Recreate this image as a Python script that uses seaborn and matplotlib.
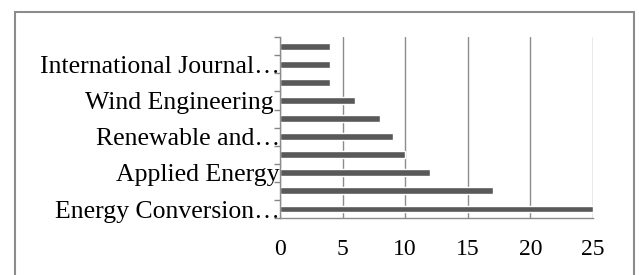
import numpy as np
import pandas as pd
import seaborn as sns
import matplotlib.pyplot as plt
from matplotlib.patches import Rectangle

# journals from bottom to top; only every other one has a visible label
journals = ["Energy Conversion\u2026", "", "Applied Energy", "", "Renewable and\u2026",
            "", "Wind Engineering ", "", "International Journal\u2026", ""]
papers = [25, 17, 12, 10, 9, 8, 6, 4, 4, 4]
x_ticks = [0, 5, 10, 15, 20, 25]

df = pd.DataFrame({"pos": np.arange(len(papers)), "papers": papers})

sns.set_theme(style="white")
plt.rcParams["font.family"] = ["Liberation Serif", "DejaVu Serif"]

fig = plt.figure(figsize=(6.39, 2.75), dpi=100)
ax = fig.add_axes([0.438, 0.207, 0.490, 0.658])

sns.barplot(data=df, x="papers", y="pos", orient="h", native_scale=True,
            color="#595959", saturation=1, width=0.38, ax=ax)

ax.set_xlim(0, 25)
ax.set_ylim(-0.5, len(papers) - 0.5)
ax.set_xticks(x_ticks)
ax.set_xticklabels([str(t) for t in x_ticks], fontsize=17, color="black")
ax.tick_params(axis="x", length=0, pad=15)

ax.set_yticks(np.arange(len(papers)))
ax.set_yticklabels(journals, fontsize=18.5, color="black")
ax.tick_params(axis="y", which="major", length=0, pad=0)
ax.set_yticks(np.arange(len(papers) + 1) - 0.5, minor=True)
ax.tick_params(axis="y", which="minor", length=4, width=1, color="#888888", left=True)

ax.xaxis.grid(True, color="#8c8c8c", linewidth=1)
ax.set_axisbelow(True)
for side in ["top", "right"]:
    ax.spines[side].set_visible(False)
for side in ["left", "bottom"]:
    ax.spines[side].set_color("#8c8c8c")
    ax.spines[side].set_linewidth(1)
ax.set_xlabel("")
ax.set_ylabel("")

fig.patches.append(Rectangle((15 / 639, -0.1), 619 / 639, 1.1 - 12 / 275,
                             transform=fig.transFigure, fill=False,
                             edgecolor="#8c8c8c", linewidth=1.5))

fig.savefig("out.png", dpi=100)
